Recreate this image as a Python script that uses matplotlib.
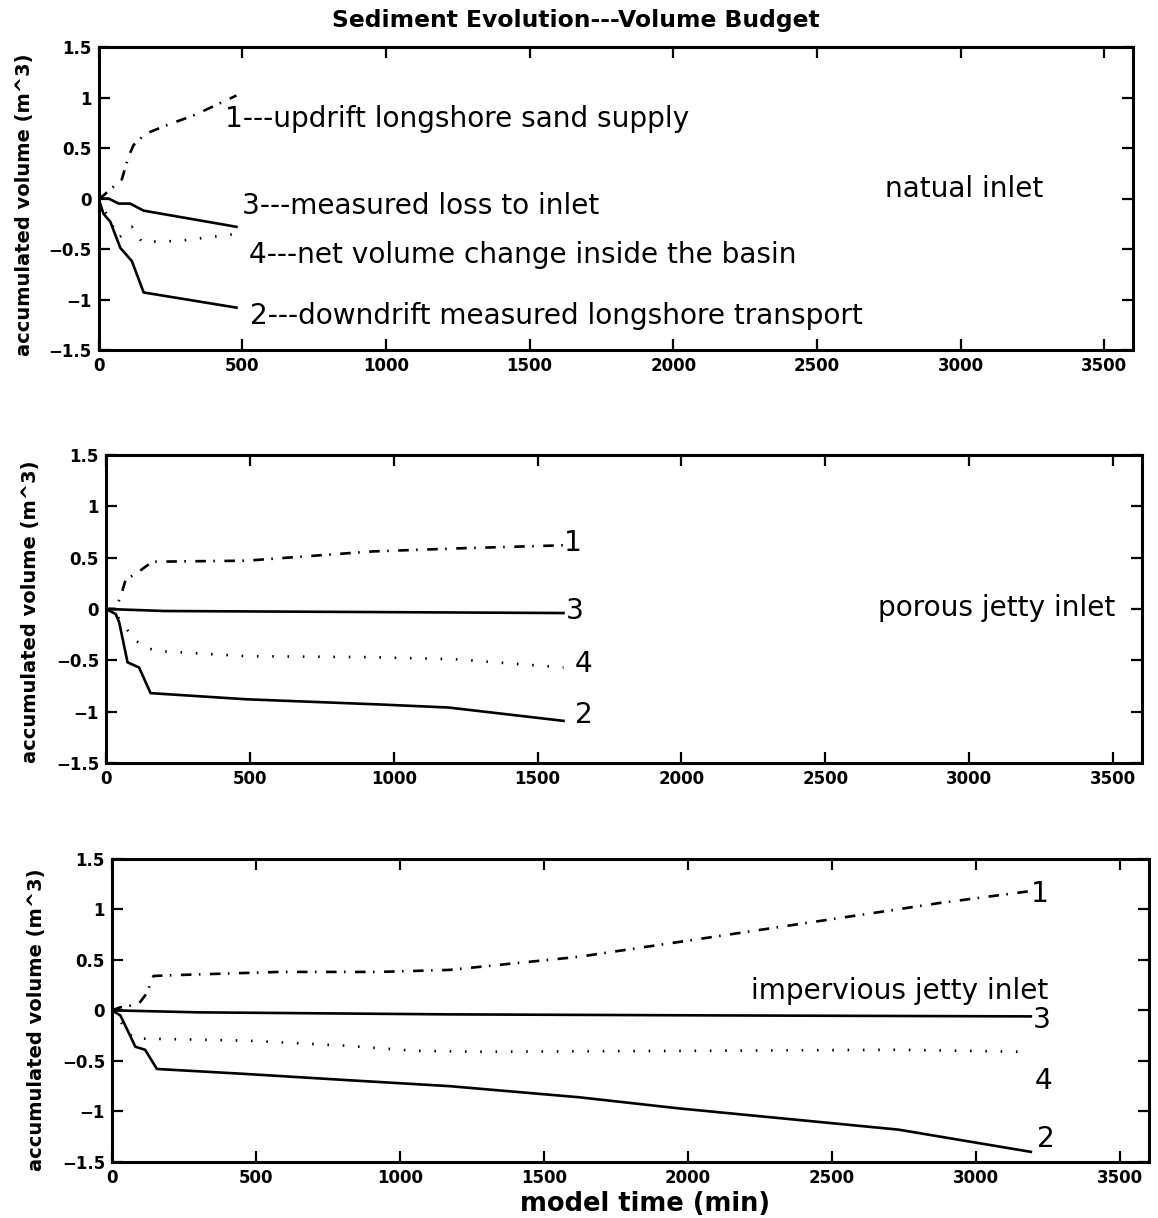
import matplotlib
matplotlib.use("Agg")
import matplotlib.pyplot as plt

# ---------------- data ----------------
# panel 1: natural inlet
t1_s1 = [0, 17, 81, 105, 122, 163, 232, 337, 480]
v1_s1 = [0, 0.03, 0.19, 0.42, 0.53, 0.64, 0.72, 0.83, 1.02]
t1_s3 = [0, 35, 70, 110, 157, 480]
v1_s3 = [0, 0, -0.05, -0.05, -0.12, -0.28]
t1_s4 = [0, 40, 70, 116, 151, 279, 480]
v1_s4 = [0, -0.22, -0.39, -0.28, -0.43, -0.42, -0.35]
t1_s2 = [0, 17, 41, 76, 116, 157, 480]
v1_s2 = [0, -0.15, -0.23, -0.49, -0.62, -0.93, -1.08]

# panel 2: porous jetty inlet
t2_s1 = [0, 34, 52, 69, 103, 161, 489, 925, 1224, 1590]
v2_s1 = [0, 0, 0.13, 0.29, 0.34, 0.46, 0.47, 0.56, 0.59, 0.62]
t2_s3 = [0, 200, 900, 1590]
v2_s3 = [0, -0.02, -0.03, -0.04]
t2_s4 = [0, 34, 63, 98, 144, 178, 489, 925, 1213, 1590]
v2_s4 = [0, -0.05, -0.16, -0.30, -0.38, -0.41, -0.46, -0.47, -0.49, -0.57]
t2_s2 = [0, 34, 46, 75, 115, 155, 489, 948, 1190, 1590]
v2_s2 = [0, -0.05, -0.13, -0.52, -0.57, -0.82, -0.88, -0.93, -0.96, -1.09]

# panel 3: impervious jetty inlet
t3_s1 = [0, 29, 92, 121, 144, 237, 583, 929, 1172, 1622, 2072, 2730, 2869, 3190]
v3_s1 = [0, 0.03, 0.06, 0.17, 0.34, 0.35, 0.38, 0.38, 0.40, 0.53, 0.72, 1.0, 1.06, 1.18]
t3_s3 = [0, 300, 1172, 2072, 3190]
v3_s3 = [0, -0.02, -0.04, -0.05, -0.06]
t3_s4 = [0, 40, 75, 121, 468, 814, 1045, 1276, 2072, 2730, 3160]
v3_s4 = [0, -0.15, -0.28, -0.28, -0.30, -0.35, -0.40, -0.41, -0.40, -0.39, -0.41]
t3_s2 = [0, 29, 63, 81, 115, 156, 468, 814, 1172, 1622, 1968, 2730, 3190]
v3_s2 = [0, -0.05, -0.25, -0.36, -0.39, -0.58, -0.63, -0.69, -0.75, -0.86, -0.97, -1.18, -1.40]

x_ticks = [0, 500, 1000, 1500, 2000, 2500, 3000, 3500]
y_ticks = [-1.5, -1, -0.5, 0, 0.5, 1, 1.5]
y_tick_labels = ["\u22121.5", "\u22121", "\u22120.5", "0", "0.5", "1", "1.5"]

title_text = "Sediment Evolution---Volume Budget"
ylabel_text = "accumulated volume (m^3)"
xlabel_text = "model time (min)"
panel_names = ["natual inlet", "porous jetty inlet", "impervious jetty inlet"]

p1_labels = ["1---updrift longshore sand supply",
             "3---measured loss to inlet",
             "4---net volume change inside the basin",
             "2---downdrift measured longshore transport"]
p1_label_pos = [(441, 0.79), (498, -0.07), (523, -0.56), (528, -1.16)]
p2_labels = ["1", "3", "4", "2"]
p2_label_pos = [(1590, 0.64), (1597, -0.02), (1628, -0.54), (1631, -1.03)]
p3_labels = ["1", "3", "4", "2"]
p3_label_pos = [(3190, 1.15), (3197, -0.10), (3205, -0.70), (3210, -1.27)]
name_pos = [(2735, 0.09), (2683, 0.01), (2218, 0.19)]

# ---------------- styling ----------------
LW = 1.9
DASHDOT = (0, (4, 2.8, 0.6, 3.6))
DOTTED = (0, (0.6, 5.2))
TICK_FONT = dict(family="DejaVu Sans", weight="bold", size=12)
ANN_FONT = dict(family="DejaVu Sans", size=20.2)

fig = plt.figure(figsize=(11.58, 12.18), dpi=100)
rects = [
    [0.0851, 0.7126, 0.8934, 0.2488],
    [0.0915, 0.3736, 0.8946, 0.2529],
    [0.0967, 0.0460, 0.8955, 0.2490],
]

panels = [
    (t1_s1, v1_s1, t1_s3, v1_s3, t1_s4, v1_s4, t1_s2, v1_s2),
    (t2_s1, v2_s1, t2_s3, v2_s3, t2_s4, v2_s4, t2_s2, v2_s2),
    (t3_s1, v3_s1, t3_s3, v3_s3, t3_s4, v3_s4, t3_s2, v3_s2),
]
labels_all = [(p1_labels, p1_label_pos), (p2_labels, p2_label_pos), (p3_labels, p3_label_pos)]

for i, (rect, data) in enumerate(zip(rects, panels)):
    ax = fig.add_axes(rect)
    ts1, vs1, ts3, vs3, ts4, vs4, ts2, vs2 = data
    ax.plot(ts1, vs1, color="black", lw=LW, linestyle=DASHDOT)
    ax.plot(ts3, vs3, color="black", lw=LW, linestyle="-")
    ax.plot(ts4, vs4, color="black", lw=LW, linestyle=DOTTED)
    ax.plot(ts2, vs2, color="black", lw=LW, linestyle="-")
    ax.set_xlim(0, 3600)
    ax.set_ylim(-1.5, 1.5)
    ax.set_xticks(x_ticks)
    ax.set_xticklabels([str(v) for v in x_ticks], **TICK_FONT)
    ax.set_yticks(y_ticks)
    ax.set_yticklabels(y_tick_labels, **TICK_FONT)
    ax.tick_params(direction="in", length=8, width=1.6, top=True, right=True,
                   pad=5, colors="black")
    for sp in ax.spines.values():
        sp.set_linewidth(2.2)
        sp.set_color("black")
    labs, poss = labels_all[i]
    for s, (x, y) in zip(labs, poss):
        ax.text(x, y, s, ha="left", va="center", color="black", **ANN_FONT)
    nx, ny = name_pos[i]
    ax.text(nx, ny, panel_names[i], ha="left", va="center", color="black", **ANN_FONT)

fig.text(576 / 1158, 1 - 20 / 1218, title_text, ha="center", va="center",
         family="DejaVu Sans", weight="bold", size=16.9)
for (xp, yp) in [(25, 205), (31, 612), (37, 1020)]:
    fig.text(xp / 1158, 1 - yp / 1218, ylabel_text, rotation=90, ha="center", va="center",
             family="DejaVu Sans", weight="bold", size=14)
fig.text(645 / 1158, 1 - 1204 / 1218, xlabel_text, ha="center", va="center",
         family="DejaVu Sans", weight="bold", size=18.5)

fig.savefig("out.png", dpi=100, facecolor="white")
